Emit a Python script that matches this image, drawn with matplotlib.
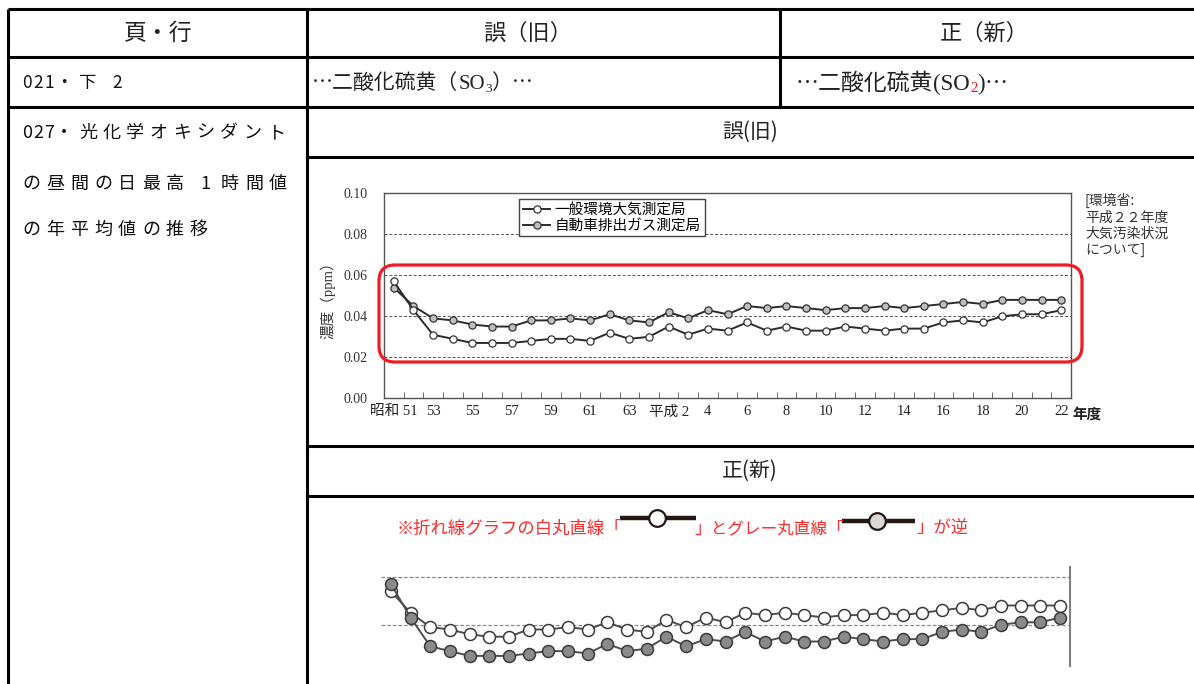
import unicodedata
import matplotlib.pyplot as plt
from matplotlib.patches import FancyBboxPatch
from matplotlib.lines import Line2D
import numpy as np

plt.rcParams['font.family'] = ['Noto Sans CJK JP', 'DejaVu Sans']
SERIF = ['Liberation Serif', 'Noto Sans CJK JP', 'DejaVu Serif']

W, H = 1194, 684

# 昭和51年度 (1976) .. 平成22年度 (2010), annual mean of daily max 1-hour value (ppm)
tick_labels = ['昭和 51', '53', '55', '57', '59', '61', '63', '平成 2', '4', '6',
               '8', '10', '12', '14', '16', '18', '20', '22']
ippan = [0.054, 0.045, 0.039, 0.038, 0.036, 0.035, 0.035, 0.038, 0.038, 0.039,
         0.038, 0.041, 0.038, 0.037, 0.042, 0.039, 0.043, 0.041, 0.045, 0.044,
         0.045, 0.044, 0.043, 0.044, 0.044, 0.045, 0.044, 0.045, 0.046, 0.047,
         0.046, 0.048, 0.048, 0.048, 0.048]
jidosha = [0.057, 0.043, 0.031, 0.029, 0.027, 0.027, 0.027, 0.028, 0.029, 0.029,
           0.028, 0.032, 0.029, 0.030, 0.035, 0.031, 0.034, 0.033, 0.037, 0.033,
           0.035, 0.033, 0.033, 0.035, 0.034, 0.033, 0.034, 0.034, 0.037, 0.038,
           0.037, 0.040, 0.041, 0.041, 0.043]
legend_labels = ['一般環境大気測定局', '自動車排出ガス測定局']

x = np.arange(len(ippan))
line_c = '#2b2b2b'

fig = plt.figure(figsize=(W / 100, H / 100), dpi=100)


def px_rect(left, top, right, bottom):
    return [left / W, 1 - bottom / H, (right - left) / W, (bottom - top) / H]


# ---- old (wrong) chart: marker colours swapped ----
ax = fig.add_axes(px_rect(384, 193.3, 1071, 398.3))
ax.plot(x, ippan, color=line_c, lw=1.4, marker='o', ms=5.2, mfc='#bfbfbf',
        mec='#333333', mew=0.9, clip_on=False, zorder=3)
ax.plot(x, jidosha, color=line_c, lw=1.4, marker='o', ms=5.2, mfc='white',
        mec='#333333', mew=0.9, clip_on=False, zorder=3)
ax.set_xlim(-0.5, len(x) - 0.5)
ax.set_ylim(0, 0.10)
ax.set_yticks([0, 0.02, 0.04, 0.06, 0.08, 0.10])
ax.set_yticklabels(['0.00', '0.02', '0.04', '0.06', '0.08', '0.10'],
                   fontfamily=SERIF, fontsize=10, color='#333333')
ax.set_xticks(x[::2])
ax.set_xticklabels(tick_labels, fontfamily=SERIF, fontsize=10.5, color='#222222')
ax.set_xticks(np.arange(0.5, len(x) - 1, 1), minor=True)
ax.tick_params(axis='both', which='major', length=0)
ax.tick_params(axis='y', pad=12)
ax.tick_params(axis='x', pad=5)
ax.tick_params(axis='x', which='minor', direction='in', length=4, color='#555555')
ax.yaxis.grid(True, ls=(0, (3, 2)), color='#555555', lw=0.7)
for s in ax.spines.values():
    s.set_color('#555555')
    s.set_linewidth(1)

handles = [Line2D([], [], color=line_c, lw=1.4, marker='o', ms=5.2, mfc='white',
                  mec='#333333', mew=0.9),
           Line2D([], [], color=line_c, lw=1.4, marker='o', ms=5.2, mfc='#bfbfbf',
                  mec='#333333', mew=0.9)]
leg = ax.legend(handles, legend_labels, loc='upper left',
                bbox_to_anchor=(519 / W, 1 - 199 / H), bbox_transform=fig.transFigure,
                fancybox=False, edgecolor='#444444', framealpha=1, fontsize=10.5,
                borderpad=0.25, handlelength=1.9, handletextpad=0.3, labelspacing=0.15,
                borderaxespad=0)
leg.get_frame().set_linewidth(1)

# ---- new (correct) chart, cropped at the bottom ----
ax2 = fig.add_axes(px_rect(381, 566.7, 1070, 665.7))
ax2.plot(x, ippan, color='#4d4d4d', lw=1.4, marker='o', ms=8.6, mfc='white',
         mec='#3a3a3a', mew=1.1, clip_on=False, zorder=3)
ax2.plot(x, jidosha, color='#4d4d4d', lw=1.4, marker='o', ms=8.6, mfc='#8a8a8a',
         mec='#3a3a3a', mew=1.1, clip_on=False, zorder=3)
ax2.set_xlim(-0.5, len(x) - 0.5)
ax2.set_ylim(0.022917, 0.064167)
ax2.set_yticks([0.04, 0.06])
ax2.set_xticks([])
ax2.tick_params(length=0, labelleft=False)
ax2.yaxis.grid(True, ls=(0, (3, 1.5)), color='#8a8a8a', lw=0.9)
for k in ['left', 'top', 'bottom']:
    ax2.spines[k].set_visible(False)
ax2.spines['right'].set_color('#808080')
ax2.spines['right'].set_linewidth(1.5)

# ---- overlay: table, texts, red box ----
ov = fig.add_axes([0, 0, 1, 1])
ov.set_xlim(0, W)
ov.set_ylim(H, 0)
ov.axis('off')
ov.patch.set_visible(False)
renderer = fig.canvas.get_renderer()

lw_t = 2.2
for y, x0 in [(9, 8), (57, 8), (107, 8), (157, 307), (446, 307), (496, 307)]:
    ov.plot([x0, W], [y, y], color='black', lw=lw_t, solid_capstyle='butt')
for xv, y1 in [(8.3, H), (307, H), (780, 107)]:
    ov.plot([xv, xv], [9, y1], color='black', lw=lw_t, solid_capstyle='butt')

ov.text(158, 33, '頁・行', fontsize=16.5, ha='center', va='center', color='#222222')
ov.text(528, 33, '誤（旧）', fontsize=16, ha='center', va='center', color='#222222')
ov.text(984, 33, '正（新）', fontsize=16, ha='center', va='center', color='#222222')


def spaced_text(x0, y, s, size, step):
    for ch in s:
        ov.text(x0, y, ch, fontsize=size, ha='left', va='center', color='#111111')
        if ch == ' ':
            x0 += 10
        elif ch == '・':
            x0 += 24
        elif unicodedata.east_asian_width(ch) in 'WF':
            x0 += step
        else:
            x0 += 11


def chain(x0, y, pieces):
    # pieces placed one after another on a common baseline
    for s, dy, kw in pieces:
        t = ov.text(x0, y + dy, s, ha='left', va='baseline', **kw)
        x0 = t.get_window_extent(renderer).x1


spaced_text(22, 83, '021・下 2', 12.5, 23.5)
spaced_text(22, 133, '027・光化学オキシダント', 13, 23.5)
spaced_text(22, 184, 'の昼間の日最高 1 時間値', 13, 24)
spaced_text(22, 230, 'の年平均値の推移', 13, 24)

dark = '#222222'
chain(312, 89, [('…二酸化硫黄（', 0, dict(fontsize=15, color=dark)),
                ('SO', 0, dict(fontsize=15, color=dark, fontfamily=SERIF)),
                ('3', 2.5, dict(fontsize=9.5, color=dark, fontfamily=SERIF)),
                ('）…', 0, dict(fontsize=15, color=dark))])
chain(796, 90, [('…二酸化硫黄', 0, dict(fontsize=16.5, color=dark)),
                ('(SO', 0, dict(fontsize=16.5, color=dark, fontfamily=SERIF)),
                ('2', 2.5, dict(fontsize=10.5, color='#ee1111', fontfamily=SERIF)),
                (')', 0, dict(fontsize=16.5, color=dark, fontfamily=SERIF)),
                ('…', 0, dict(fontsize=16.5, color=dark))])

ov.text(750, 132, '誤(旧)', fontsize=15, ha='center', va='center', color=dark)
ov.text(750, 471, '正(新)', fontsize=15, ha='center', va='center', color=dark)

ov.text(328, 297, '濃度（ppm）', rotation=90, fontsize=10.5, ha='center', va='center',
        fontfamily=SERIF, color='#333333')
ov.text(1072, 414, '年度', fontsize=10.5, weight='bold', ha='left', va='center',
        color=dark)
ov.text(1085, 193, '[環境省:\n平成２２年度\n大気汚染状況\nについて]', fontsize=10,
        ha='left', va='top', linespacing=1.2, color='#333333')

ov.add_patch(FancyBboxPatch((379, 265), 1082 - 379, 362 - 265,
                            boxstyle='round,pad=0,rounding_size=16',
                            fill=False, edgecolor='#ee1c24', lw=2.3))

red = '#ff2a2a'
ov.text(397, 529, '※折れ線グラフの白丸直線「', fontsize=12.5, ha='left', va='center',
        color=red)
ov.text(769, 529, '」とグレー丸直線「', fontsize=12, ha='center', va='center', color=red)
ov.text(916, 529, '」が逆', fontsize=12.5, ha='left', va='center', color=red)
ov.plot([620, 696], [518, 518], color='#231815', lw=3.2, solid_capstyle='butt')
ov.plot([657], [518], 'o', ms=12, mfc='white', mec='#231815', mew=1.6)
ov.plot([842, 915], [520.5, 520.5], color='#231815', lw=3.2, solid_capstyle='butt')
ov.plot([877], [520.5], 'o', ms=12, mfc='#d9d9d9', mec='#231815', mew=1.6)

fig.savefig('out.png', dpi=100)
